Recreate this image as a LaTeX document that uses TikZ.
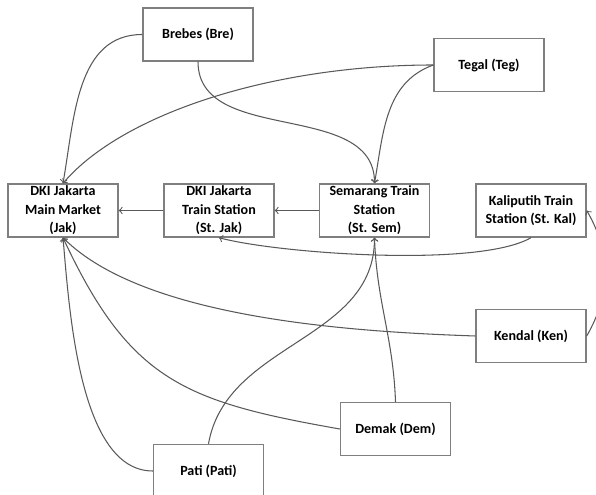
\documentclass[tikz,border=0pt]{standalone}
\usepackage{fontspec}
\setmainfont{Carlito}
\usepackage{tikz}
\usetikzlibrary{positioning}

\definecolor{linegray}{HTML}{595959}
\definecolor{boxgray}{HTML}{7F7F7F}

\begin{document}
\begin{tikzpicture}[
loc/.style={rectangle, draw=boxgray, thick, minimum width = 2.2cm, minimum height = 1.06cm, inner sep = 0pt, align = center, font = \fontsize{8}{10.5}\selectfont\bfseries},
every path/.style={}, lk/.style={->, draw=linegray, semithick}]
\useasboundingbox (0,0) rectangle (11.92,9.9);
\node[loc] (bre) at (3.96,9.21) {Brebes (Bre)};
\node[loc] (teg) at (9.78,8.60) {Tegal (Teg)};
\node[loc] (jak) at (1.26,5.69) {DKI Jakarta\\Main Market\\(Jak)};
\node[loc] (stjak) at (4.38,5.69) {DKI Jakarta\\Train Station\\(St. Jak)};
\node[loc] (stsem) at (7.49,5.69) {Semarang Train\\Station\\(St. Sem)};
\node[loc] (stkal) at (10.62,5.69) {Kaliputih Train\\Station (St. Kal)};
\node[loc] (ken) at (10.62,3.18) {Kendal (Ken)};
\node[loc] (dem) at (7.91,1.32) {Demak (Dem)};
\node[loc] (pati) at (4.17,0.48) {Pati (Pati)};
\draw[lk] (bre.west) to[out=180, in=80] (jak.north);
\draw[lk] (teg.west) .. controls +(-3.2,0) and +(1.2,1.4) .. (jak.north);
\draw[lk] (bre.south) to[out=-90, in=90] (stsem.north);
\draw[lk] (teg.west) to[out=200, in=80] (stsem.north);
\draw[lk] (stjak) to (jak);
\draw[lk] (stsem) to (stjak);
\draw[lk] (stkal.south) to[out=-150, in=-15, looseness=0.5] (stjak.south);
\draw[lk] (ken.west) to[out=178, in=-45, looseness=0.7] (jak.south);
\draw[lk] (dem.west) to[out=170, in=-65, looseness=1.2] (jak.south);
\draw[lk] (pati.west) to[out=180, in=-85, looseness=0.75] (jak.south);
\draw[lk] (pati.north) to[out=80, in=-90] (stsem.south);
\draw[lk] (dem.north) to[out=92, in=-88] (stsem.south);
\draw[lk] (ken.east) to[out=60, in=-60] (stkal.east);
\end{tikzpicture}
\end{document}
